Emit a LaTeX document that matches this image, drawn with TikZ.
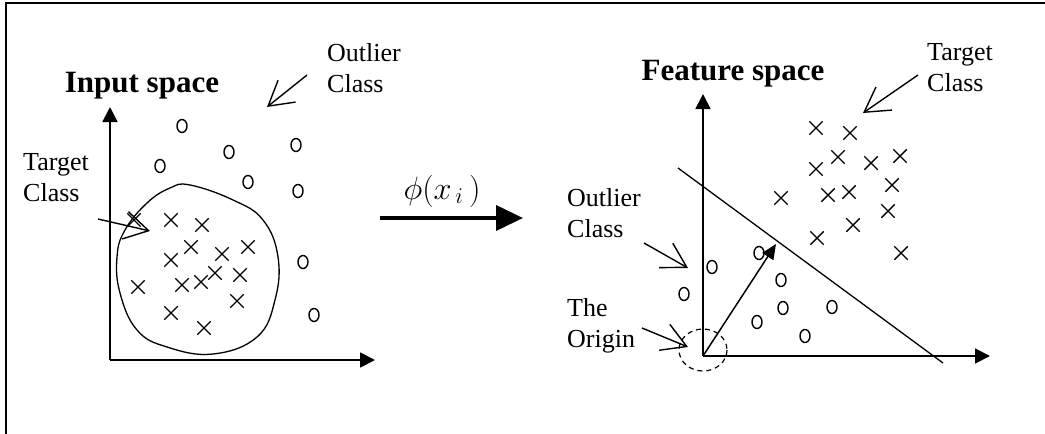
\documentclass[tikz,border=0pt]{standalone}
\usepackage{fontspec}
\setmainfont{Liberation Serif}
\usetikzlibrary{arrows.meta,positioning,calc,shapes.geometric,shapes.misc}

\begin{document}
\begin{tikzpicture}[x=1pt, y=-1pt, >=Latex, font=\fontsize{26}{31}\selectfont]
  \tikzstyle{lbl}=[align=left, inner sep=0pt, anchor=north west]
  \tikzstyle{ttl}=[font=\fontsize{31}{36}\selectfont\bfseries, inner sep=0pt, anchor=base]
  \tikzstyle{xmark}=[cross out, draw, line width=1.4pt, minimum size=12pt, inner sep=0pt]
  \tikzstyle{omark}=[ellipse, draw, line width=1.4pt, minimum width=10pt, minimum height=13pt, inner sep=0pt]
  \tikzstyle{axis}=[-{Triangle[length=15pt,width=15pt]}, line width=1.8pt]
  \tikzstyle{pointer}=[-{Straight Barb[length=24pt,width=28pt]}, line width=1.4pt]
  \useasboundingbox (0,0) rectangle (1045,434);
  % frame (top and left only)
  \draw[line width=2pt] (6,434) -- (6,3) -- (1045,3);

  % ---- input space ----
  \coordinate (io) at (110,360);
  \coordinate (iy) at (110,107);
  \coordinate (ix) at (375,360);
  \draw[axis] (io) -- (iy);
  \draw[axis] (io) -- (ix);
  \node[ttl] (intitle) at (142,92) {Input space};
  \draw[line width=1.3pt] plot[smooth cycle, tension=0.7] coordinates {
    (190,185) (233,200) (263,220) (278,257) (275,300) (257,337) (213,354)
    (167,347) (137,330) (120,293) (117,257) (125,230) (147,203) (170,188)};
  \foreach \x/\y [count=\i] in {134/220,171/220,202/225,191/247,222/254,248/247,171/260,
      138/287,182/285,201/282,215/273,240/275,237/301,171/313,204/328}
    \node[xmark] (inx\i) at (\x,\y) {};
  \foreach \x/\y [count=\i] in {182/126,160/166,229/152,248/182,296/145,298/191,303/262,314/315}
    \node[omark] (ino\i) at (\x,\y) {};
  \node[lbl] (inout) at (327,43) {Outlier\\Class};
  \node[lbl] (intgt) at (23,153) {Target\\Class};
  \coordinate (inoutA) at (307,75);
  \coordinate (inoutB) at (267,107);
  \coordinate (intgtA) at (98,219);
  \coordinate (intgtB) at (150,231);
  \draw[pointer] (inoutA) -- (inoutB);
  \draw[pointer] (intgtA) -- (intgtB);

  % ---- mapping ----
  \coordinate (mapA) at (380,218);
  \coordinate (mapB) at (523,218);
  \draw[-{Triangle[length=27pt,width=25pt]}, line width=4pt] (mapA) -- (mapB);
  \node[anchor=base, inner sep=0pt, scale=1.3] (phi) at (442,199)
    {$\phi\bigl(x_{\,i}\,\bigr)$};

  % ---- feature space ----
  \coordinate (fo) at (703,356);
  \coordinate (fy) at (703,94);
  \coordinate (fx) at (990,356);
  \draw[axis] (fo) -- (fy);
  \draw[axis] (fo) -- (fx);
  \node[ttl] (fttitle) at (733,80) {Feature space};
  \coordinate (sepA) at (678,168);
  \coordinate (sepB) at (943,363);
  \draw[line width=1.3pt] (sepA) -- (sepB);
  \coordinate (wvec) at (776,244);
  \draw[-{Triangle[length=15pt,width=13pt]}, line width=1.5pt] (fo) -- (wvec);
  \draw[dashed, dash pattern=on 5pt off 4pt, line width=1.2pt] (703,350) ellipse [x radius=24, y radius=21];
  \foreach \x/\y [count=\i] in {816/128,850/133,838/157,816/169,871/163,900/156,892/185,
      781/198,828/195,849/192,888/211,853/225,817/238,901/253}
    \node[xmark] (ftx\i) at (\x,\y) {};
  \foreach \x/\y [count=\i] in {712/267,684/294,759/253,781/280,783/308,757/322,805/336,832/307}
    \node[omark] (fto\i) at (\x,\y) {};
  \node[lbl] (fttgt) at (927,43) {Target\\Class};
  \node[lbl] (ftout) at (567,188) {Outlier\\Class};
  \node[lbl] (ftorg) at (567,298) {The\\Origin};
  \coordinate (fttgtA) at (918,75);
  \coordinate (fttgtB) at (863,113);
  \coordinate (ftoutA) at (644,243);
  \coordinate (ftoutB) at (688,268);
  \coordinate (ftorgA) at (642,328);
  \coordinate (ftorgB) at (688,347);
  \draw[pointer] (fttgtA) -- (fttgtB);
  \draw[pointer] (ftoutA) -- (ftoutB);
  \draw[pointer] (ftorgA) -- (ftorgB);
\end{tikzpicture}
\end{document}
